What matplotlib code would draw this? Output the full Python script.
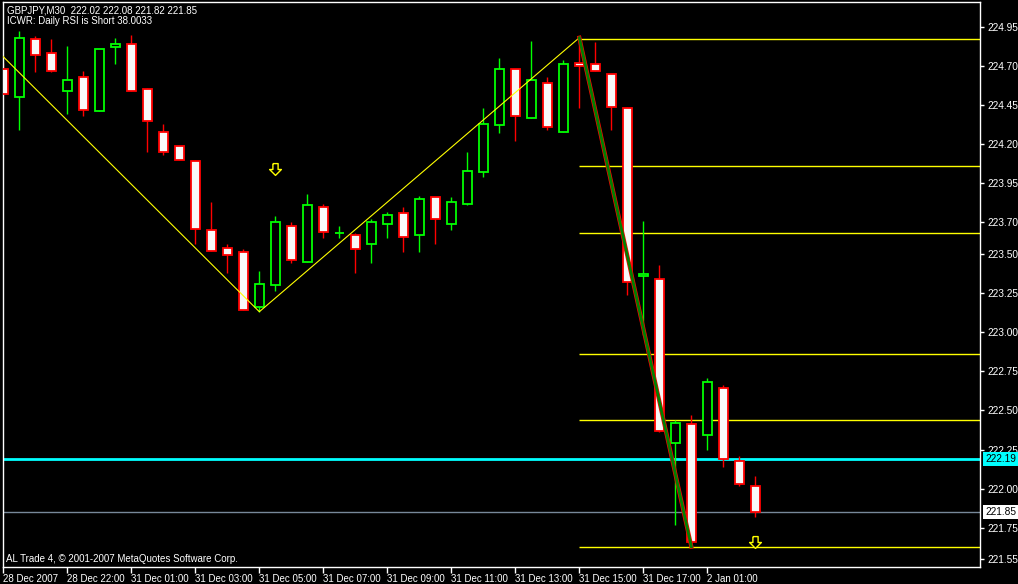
import matplotlib
matplotlib.use("Agg")
import matplotlib.pyplot as plt
import numpy as np
from matplotlib.path import Path

# GBPJPY M30 bars
opens = [224.68, 224.50, 224.87, 224.78, 224.54, 224.63, 224.41, 224.82,
         224.84, 224.55, 224.28, 224.19, 224.09, 223.65, 223.54, 223.51,
         223.16, 223.30, 223.68, 223.45, 223.80, 223.63, 223.62, 223.56,
         223.69, 223.76, 223.62, 223.86, 223.69, 223.82, 224.02, 224.32,
         224.68, 224.37, 224.59, 224.28, 224.72, 224.71, 224.65, 224.43,
         223.36, 223.34, 222.29, 222.41, 222.34, 222.64, 222.18, 222.02]
highs = [224.72, 224.92, 224.89, 224.87, 224.83, 224.67, 224.81, 224.88,
         224.90, 224.56, 224.33, 224.19, 224.10, 223.83, 223.56, 223.53,
         223.39, 223.74, 223.70, 223.88, 223.82, 223.68, 223.63, 223.72,
         223.77, 223.80, 223.87, 223.86, 223.86, 224.15, 224.43, 224.75,
         224.68, 224.86, 224.63, 224.74, 224.88, 224.85, 224.65, 224.44,
         223.71, 223.43, 222.44, 222.47, 222.71, 222.66, 222.21, 222.08]
lows = [224.52, 224.29, 224.66, 224.66, 224.39, 224.38, 224.41, 224.71,
        224.54, 224.15, 224.13, 224.10, 223.56, 223.52, 223.38, 223.14,
        223.13, 223.26, 223.44, 223.45, 223.60, 223.60, 223.38, 223.44,
        223.60, 223.51, 223.51, 223.56, 223.65, 223.81, 223.99, 224.27,
        224.22, 224.37, 224.29, 224.28, 224.43, 224.67, 224.29, 223.24,
        222.98, 222.36, 221.77, 221.63, 222.25, 222.14, 222.02, 221.82]
closes = [224.52, 224.88, 224.77, 224.67, 224.61, 224.42, 224.81, 224.84,
          224.54, 224.35, 224.15, 224.10, 223.66, 223.52, 223.49, 223.14,
          223.31, 223.70, 223.46, 223.81, 223.64, 223.63, 223.53, 223.70,
          223.75, 223.61, 223.85, 223.72, 223.83, 224.03, 224.33, 224.68,
          224.38, 224.61, 224.31, 224.71, 224.70, 224.67, 224.44, 223.32,
          223.37, 222.37, 222.42, 221.66, 222.68, 222.19, 222.03, 221.85]

time_tick_idx = [0, 4, 8, 12, 16, 20, 24, 28, 32, 36, 40, 44]
time_tick_labels = ["28 Dec 2007", "28 Dec 22:00", "31 Dec 01:00", "31 Dec 03:00",
                    "31 Dec 05:00", "31 Dec 07:00", "31 Dec 09:00", "31 Dec 11:00",
                    "31 Dec 13:00", "31 Dec 15:00", "31 Dec 17:00", "2 Jan 01:00"]
price_ticks = [224.95, 224.70, 224.45, 224.20, 223.95, 223.70, 223.50, 223.25,
               223.00, 222.75, 222.50, 222.25, 222.00, 221.75, 221.55]

zigzag_idx = [-1, 16, 36]
zigzag_price = [224.86, 223.13, 224.88]
fib_start = 36
fib_levels = [224.87, 224.06, 223.63, 222.86, 222.44, 221.63]
trend_idx = [36, 43]
trend_price = [224.88, 221.63]
arrow_idx = [17, 47]
arrow_price = [224.04, 221.66]
ask_line = 222.19
bid_line = 221.85

W, H = 1018, 584
plt.rcParams['font.family'] = ['Liberation Sans', 'DejaVu Sans']
fig = plt.figure(figsize=(W / 100, H / 100), dpi=100, facecolor="black")
ax = fig.add_axes([3 / W, 17 / H, 977 / W, 565 / H], facecolor="black")

x = np.arange(len(opens))
o = np.array(opens)
c = np.array(closes)
bull = c >= o
wick_col = np.where(bull, "#00ff00", "#ff0000")
ax.vlines(x, lows, highs, colors=wick_col, lw=1, zorder=2)
ax.bar(x[bull], (c - o)[bull], bottom=o[bull], width=0.56, color="black",
       edgecolor="#00ff00", linewidth=1.3, zorder=3)
ax.bar(x[~bull], (o - c)[~bull], bottom=c[~bull], width=0.56, color="#f8f8f8",
       edgecolor="#ff0000", linewidth=1.3, zorder=3)

xmax = 61.04
ax.plot(zigzag_idx, zigzag_price, color="#ffff00", lw=0.8, zorder=4)
ax.hlines(fib_levels, fib_start, xmax, colors="#ffff00", lw=1, zorder=1)
ax.plot(trend_idx, trend_price, color="#ff0000", lw=3.0, zorder=5)
ax.plot(trend_idx, trend_price, color="#008000", lw=2.0, zorder=6)
ax.axhline(ask_line, color="#00ffff", lw=2, zorder=1)
ax.axhline(bid_line, color="#778899", lw=1, zorder=1)

arrow = Path([(-0.22, 0.5), (0.22, 0.5), (0.22, 0.0), (0.5, 0.0), (0.0, -0.5),
              (-0.5, 0.0), (-0.22, 0.0), (-0.22, 0.5)])
ax.plot(arrow_idx, arrow_price, ls="none", marker=arrow, ms=8.5,
        mfc="black", mec="#ffff00", mew=1, zorder=7)

ax.set_xlim(-0.02, xmax)
ax.set_ylim(221.50, 225.108)
for s in ax.spines.values():
    s.set_color("white")
    s.set_linewidth(1)

ax.yaxis.tick_right()
ax.set_yticks(price_ticks)
ax.set_yticklabels(["%.2f" % p for p in price_ticks])
ax.tick_params(axis="y", direction="out", length=3, width=1, colors="white",
               labelsize=7.3, pad=2)
ax.set_xticks(time_tick_idx)
ax.set_xticklabels(time_tick_labels, ha="left")
ax.tick_params(axis="x", direction="out", length=4, width=1, colors="white",
               labelsize=7, pad=1)

ax.annotate("%.2f" % ask_line, xy=(1, ask_line), xycoords=("axes fraction", "data"),
            xytext=(5, 0), textcoords="offset pixels", ha="left", va="center",
            fontsize=7.3, color="black",
            bbox=dict(boxstyle="square,pad=0.18", fc="#00ffff", ec="none"))
ax.annotate("%.2f" % bid_line, xy=(1, bid_line), xycoords=("axes fraction", "data"),
            xytext=(5, 0), textcoords="offset pixels", ha="left", va="center",
            fontsize=7.3, color="black",
            bbox=dict(boxstyle="square,pad=0.18", fc="white", ec="none"))

fig.text(7 / W, 1 - 10.5 / H, "GBPJPY,M30  222.02 222.08 221.82 221.85",
         color="white", fontsize=7, va="center")
fig.text(7 / W, 1 - 21 / H, "ICWR: Daily RSI is Short 38.0033",
         color="white", fontsize=7, va="center")
fig.text(6 / W, 1 - 558.5 / H, "AL Trade 4, © 2001-2007 MetaQuotes Software Corp.",
         color="white", fontsize=7, va="center")

fig.savefig("out.png", dpi=100, facecolor="black")
